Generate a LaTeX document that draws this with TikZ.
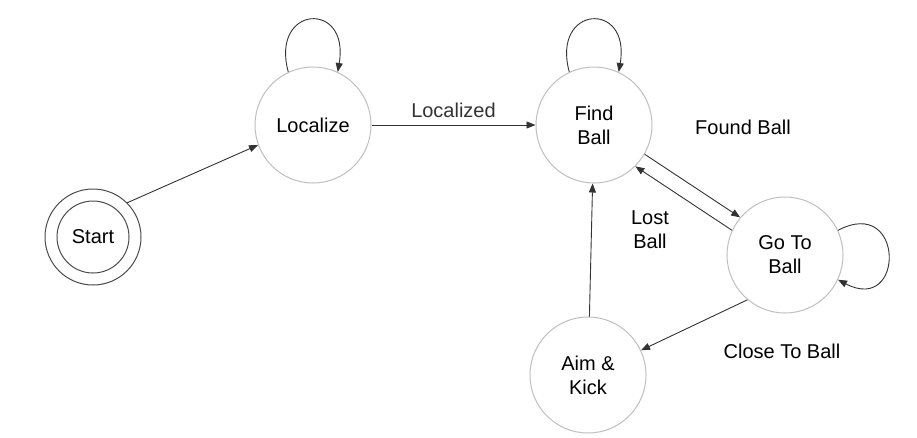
\documentclass[tikz,border=0pt]{standalone}
\usepackage{fontspec}
\setmainfont{Liberation Sans}
\usetikzlibrary{arrows.meta}
\begin{document}
\begin{tikzpicture}[x=1pt,y=-1pt,
  st/.style={circle,draw=black!25,line width=1pt,minimum size=116pt,inner sep=0pt,align=center,font=\fontsize{20}{24}\selectfont},
  ar/.style={-{Triangle[length=9pt,width=7pt]},line width=0.9pt,black!80},
  lb/.style={font=\fontsize{20}{24}\selectfont,align=center}]
\useasboundingbox[fill=white] (0,0) rectangle (917,437);
\node[st] (loc) at (313,125) {Localize};
\node[st] (find) at (594,125) {Find\\Ball};
\node[st] (go) at (785,255) {Go To\\Ball};
\node[st] (aim) at (588,375) {Aim \&\\Kick};
\node[circle,draw=black!70,line width=1pt,minimum size=96pt] (start) at (93,237) {};
\node[circle,draw=black!70,line width=1pt,minimum size=72pt,font=\fontsize{20}{24}\selectfont] at (93,237) {Start};
\draw[ar] (start.45) -- (loc.200);
\draw[ar] (loc) -- node[lb,above=4pt]{Localized} (find);
\draw[ar] (find.-30) -- (go.140);
\node[lb] (found) at (743,127) {Found Ball};
\draw[ar] (go.155) -- (find.-45);
\node[lb] (lost) at (650,230) {Lost\\Ball};
\draw[ar] (go.-130) -- (aim.25);
\node[lb] (close) at (782,351) {Close To Ball};
\draw[ar] (aim) -- (find);
\draw[ar] (loc.115) .. controls (270,5) and (350,0) .. (loc.65);
\draw[ar] (find.115) .. controls (551,5) and (631,0) .. (find.65);
\draw[ar] (go.25) .. controls (905,195) and (905,315) .. (go.-25);
\end{tikzpicture}
\end{document}
